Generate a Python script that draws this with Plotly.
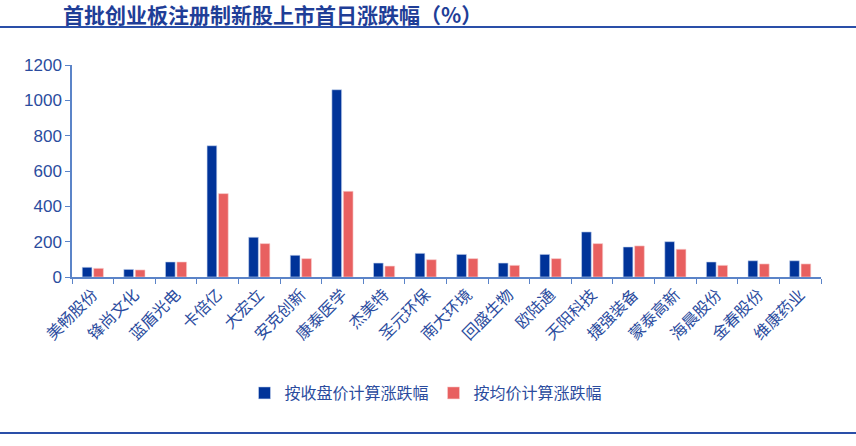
import plotly.graph_objects as go

# data
stocks = ["美畅股份", "锋尚文化", "蓝盾光电", "卡倍亿", "大宏立", "安克创新", "康泰医学",
          "杰美特", "圣元环保", "南大环境", "回盛生物", "欧陆通", "天阳科技", "捷强装备",
          "蒙泰高新", "海晨股份", "金春股份", "维康药业"]
close_chg = [55, 43, 85, 743, 225, 123, 1060, 79, 134, 128, 79, 128, 255, 170, 200, 85, 92, 92]
avg_chg = [49, 40, 85, 472, 189, 104, 485, 62, 98, 104, 66, 104, 189, 176, 157, 66, 74, 74]
yticks = [0, 200, 400, 600, 800, 1000, 1200]

FONT = "Noto Sans CJK SC"
BLUE = "#003399"
RED = "#E86060"
TXT = "#2B4C9E"
AXIS = "#5B84C8"

W, H = 856, 446
L, R, T, B = 72, 35, 65, 169
pw, ph = W - L - R, H - T - B


def px(x):
    return (x - L) / pw


def py(y):
    return (H - B - y) / ph


fig = go.Figure()
fig.add_trace(go.Bar(x=stocks, y=close_chg, name="按收盘价计算涨跌幅",
                     marker=dict(color=BLUE, line=dict(color="#C9D6F0", width=0.6))))
fig.add_trace(go.Bar(x=stocks, y=avg_chg, name="按均价计算涨跌幅",
                     marker=dict(color=RED, line=dict(color="#F8D0D0", width=0.6))))

fig.update_layout(
    width=W, height=H,
    margin=dict(l=L, r=R, t=T, b=B),
    plot_bgcolor="white", paper_bgcolor="white",
    barmode="group", bargap=0.45, bargroupgap=0.15,
    font=dict(family=FONT, color=TXT, size=14),
    showlegend=True,
    legend=dict(orientation="h", x=px(426), xanchor="center", y=py(393), yanchor="middle",
                font=dict(size=16, color=TXT), itemwidth=30, traceorder="normal"),
    annotations=[dict(text="<b>首批创业板注册制新股上市首日涨跌幅（%）</b>", xref="paper", yref="paper",
                      x=px(61), y=py(14), xanchor="left", yanchor="middle", showarrow=False,
                      font=dict(family=FONT, size=21, color="#1F3E97"))],
    shapes=[
        dict(type="line", xref="paper", yref="paper", x0=px(0), x1=px(W), y0=py(27), y1=py(27),
             line=dict(color="#2A4FA8", width=2)),
        dict(type="line", xref="paper", yref="paper", x0=px(0), x1=px(W), y0=py(433), y1=py(433),
             line=dict(color="#2A4FA8", width=2)),
    ],
)

fig.update_yaxes(range=[0, 1200], tickvals=yticks, showgrid=False, zeroline=False,
                 showline=True, linecolor=AXIS, linewidth=1.5, automargin=False,
                 ticks="outside", ticklen=5, tickcolor=AXIS,
                 tickfont=dict(family="Liberation Sans", size=17, color=TXT))
fig.update_xaxes(showgrid=False, showline=True, linecolor=AXIS, linewidth=2, automargin=False,
                 ticks="outside", tickson="boundaries", ticklen=5, tickcolor=AXIS,
                 tickangle=-45, tickfont=dict(size=16, color=TXT))

fig.write_html("out.html", config={"displayModeBar": False},
               post_script="document.body.style.margin='0';")
